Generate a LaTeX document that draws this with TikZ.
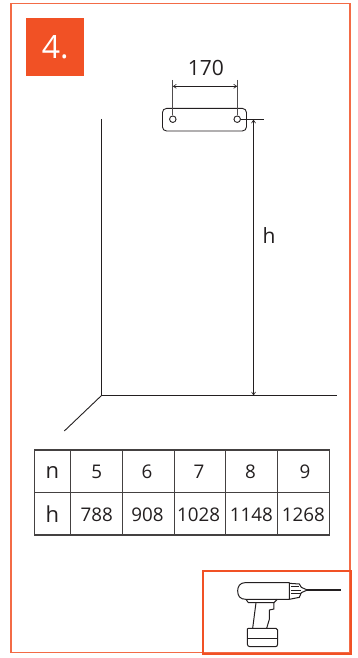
\documentclass[tikz,border=0pt]{standalone}
\usepackage{fontspec}
\setmainfont{Open Sans}
\usetikzlibrary{arrows.meta}
\definecolor{accent}{HTML}{F15125}
\definecolor{ink}{HTML}{231F20}
\tikzset{
  x=1pt,y=-1pt,
  frameline/.style={draw=accent!85!white,line width=1.8pt},
  accentbox/.style={draw=accent,line width=2pt},
  ink line/.style={draw=ink,line width=0.9pt},
  thin ink/.style={draw=ink!80,line width=0.8pt},
  dimline/.style={draw=ink,line width=0.6pt,{Straight Barb[length=3pt,width=4pt]}-{Straight Barb[length=3pt,width=4pt]}},
  tablegrid/.style={draw=ink!85,line width=1.1pt},
  cell/.style={font=\fontsize{18.8}{20}\selectfont,text=ink,inner sep=0pt},
  headcell/.style={font=\fontsize{22}{24}\selectfont,text=ink,inner sep=0pt},
  dimlabel/.style={font=\fontsize{21}{24}\selectfont,text=ink,inner sep=0pt},
  drillline/.style={draw=ink,line width=1pt,line join=round},
}
\begin{document}
\begin{tikzpicture}
\useasboundingbox (0,0) rectangle (358,658);
\fill[white] (0,0) rectangle (358,658);
% frame
\draw[frameline] (11.2,3.5) rectangle (350,652.5);
% badge
\node[fill=accent,minimum width=58pt,minimum height=58pt,inner sep=0pt,anchor=north west,text=white,font=\fontsize{32}{34}\selectfont] (badge) at (26,18) {4.};
% wall
\coordinate (walltop) at (101.5,119);
\coordinate (corner) at (101.5,395.5);
\coordinate (floorend) at (337,395.5);
\coordinate (diagend) at (64.3,431);
\draw[ink line] (walltop) -- (corner) -- (floorend);
\draw[ink line] (corner) -- (diagend);
% plate
\node[draw=ink,line width=0.9pt,rounded corners=4pt,minimum width=84pt,minimum height=22.5pt,inner sep=0pt,anchor=north west] (plate) at (162,108) {};
\node[draw=ink,line width=0.9pt,circle,minimum size=6.5pt,inner sep=0pt] (holeA) at (172.8,119.2) {};
\node[draw=ink,line width=0.9pt,circle,minimum size=6.5pt,inner sep=0pt] (holeB) at (237.2,119.2) {};
\coordinate (extA) at (172.8,80);
\coordinate (extB) at (237.2,80);
\draw[thin ink] (extA) -- (holeA.north);
\draw[thin ink] (extB) -- (holeB.north);
\coordinate (dimA) at (172.8,86.3);
\coordinate (dimB) at (237.2,86.3);
\draw[dimline] (dimA) -- (dimB);
\node[dimlabel] (w) at (205.8,68) {170};
% h dimension
\coordinate (hext) at (263.5,119.2);
\draw[ink line] (holeB.east) -- (hext);
\coordinate (htop) at (253.5,119.6);
\coordinate (hbot) at (253.5,395.5);
\draw[dimline] (htop) -- (hbot);
\node[dimlabel] (hl) at (269,236) {h};
% table
\draw[tablegrid] (34.7,450) rectangle (329.2,535);
\draw[tablegrid] (34.7,492.4) -- (329.2,492.4);
\foreach \x in {70.8,122.7,174.3,225.7,277.3} \draw[tablegrid] (\x,450) -- (\x,535);
\node[headcell] (n0) at (52.5,473) {n};
\node[headcell] (h0) at (52.5,514.5) {h};
\node[cell] (n1) at (96.7,472) {5};
\node[cell] (n2) at (147,472) {6};
\node[cell] (n3) at (199,472) {7};
\node[cell] (n4) at (250.5,472) {8};
\node[cell] (n5) at (305,472) {9};
\node[cell] (h1) at (96.7,514.5) {788};
\node[cell] (h2) at (147.5,514.5) {908};
\node[cell] (h3) at (198.7,514.5) {1028};
\node[cell] (h4) at (251.3,514.5) {1148};
\node[cell] (h5) at (303.3,514.5) {1268};
% drill box
\draw[accentbox] (203,571) rectangle (350.5,654);
% drill
\begin{scope}[shift={(190,560)},x=0.3333pt,y=-0.3333pt]
\draw[drillline] (298,68) -- (165,68) .. controls (150,68) and (143,80) .. (143,92) .. controls (143,108) and (150,118) .. (168,118) -- (298,118) -- cycle;
\draw[drillline] (298,70) -- (328,72) -- (334,82) -- (352,90) -- (334,98) -- (328,112) -- (298,118);
\draw[drillline] (303,80) -- (328,80);
\draw[drillline] (303,90) -- (334,90);
\draw[drillline] (303,100) -- (332,100);
\draw[draw=ink,line width=1.3pt] (352,90) -- (452,90);
\draw[drillline] (168,118) -- (175,128) -- (252,128) -- (262,118);
\draw[drillline] (198,128) -- (188,205);
\draw[drillline] (252,128) -- (252,147) -- (238,150) -- (238,178) -- (230,205);
\draw[drillline] (172,207) .. controls (172,205) and (174,205) .. (176,205) -- (258,205) .. controls (262,205) and (263,207) .. (263,210) -- (263,252) .. controls (263,258) and (260,260) .. (256,260) -- (180,260) .. controls (175,260) and (172,257) .. (172,252) -- cycle;
\draw[drillline] (172,235) -- (263,235);
\end{scope}
\end{tikzpicture}
\end{document}
